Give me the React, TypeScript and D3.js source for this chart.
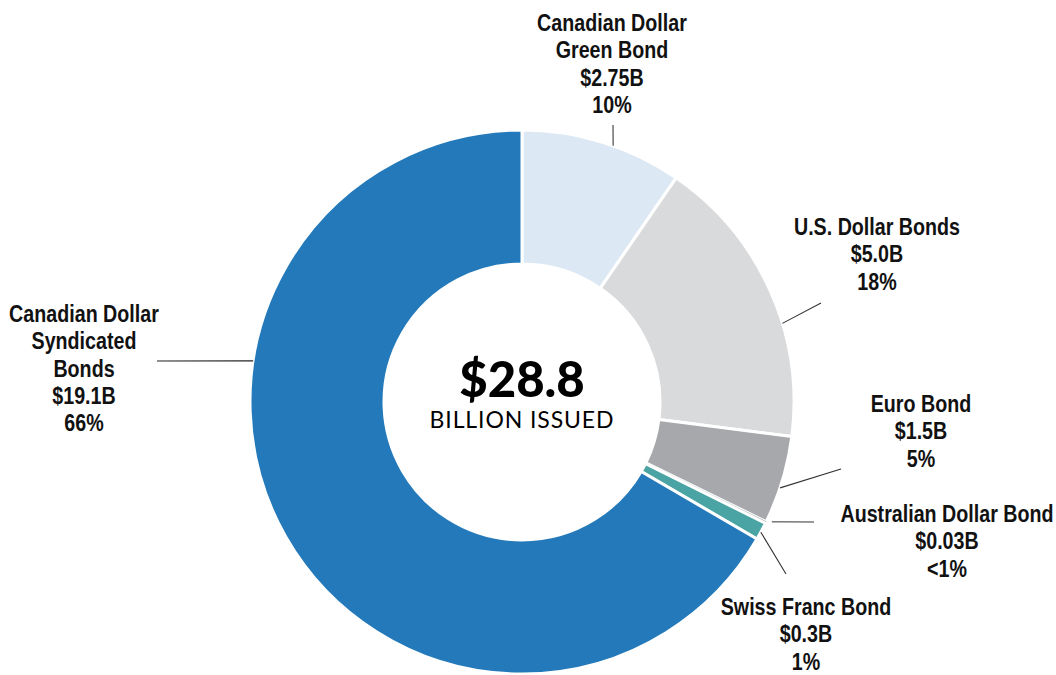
import React, { useEffect, useRef } from 'react';
import * as d3 from 'd3';

// Issuance by currency, in billions (clockwise from 12 o'clock)
const categories = [
  'Canadian Dollar Green Bond',
  'U.S. Dollar Bonds',
  'Euro Bond',
  'Australian Dollar Bond',
  'Swiss Franc Bond',
  'Canadian Dollar Syndicated Bonds',
];
const amounts = [2.75, 5.0, 1.5, 0.03, 0.3, 19.1];
const amountLabels = ['$2.75B', '$5.0B', '$1.5B', '$0.03B', '$0.3B', '$19.1B'];
const shareLabels = ['10%', '18%', '5%', '<1%', '1%', '66%'];
const colors = ['#dce9f5', '#d9dadc', '#a7a8ab', '#b9babd', '#4ba4a4', '#2379b9'];

const totalLabel = '$28.8';
const totalCaption = 'BILLION ISSUED';

// label layout: name lines, text center x, first baseline, leader anchor angle (deg) and end point
const labelLayout = [
  { lines: ['Canadian Dollar', 'Green Bond'], x: 612, y: 31, angle: 19.6, end: [613, 125], stroke: '#777' },
  { lines: ['U.S. Dollar Bonds'], x: 877, y: 235, angle: 73.2, end: [821, 303], stroke: '#333' },
  { lines: ['Euro Bond'], x: 921, y: 412, angle: 108.4, end: [841, 469], stroke: '#333' },
  { lines: ['Australian Dollar Bond'], x: 947, y: 522, angle: 115.6, end: [814, 522], stroke: '#777', offset: 5 },
  { lines: ['Swiss Franc Bond'], x: 806, y: 615, angle: 118.6, end: [786, 574], stroke: '#333' },
  { lines: ['Canadian Dollar', 'Syndicated', 'Bonds'], x: 84, y: 322, angle: 278.7, end: [157, 361], stroke: '#222' },
];

const width = 1056;
const height = 675;
const cx = 522;
const cy = 402;
const outerR = 272;
const innerR = 138;
const lineH = 27.3;
const squeeze = 0.82; // condensed look for the bold labels
const labelFont = "'Liberation Sans', Arial, sans-serif";

const App: React.FC = () => {
  const svgRef = useRef<SVGSVGElement>(null);

  useEffect(() => {
    if (!svgRef.current) return;
    const svg = d3.select(svgRef.current);
    svg.selectAll('*').remove();

    const data = categories.map((c, i) => ({ name: c, value: amounts[i], color: colors[i] }));

    const pie = d3.pie<typeof data[0]>().sort(null).value(d => d.value);
    const arcs = pie(data);
    const arc = d3.arc<d3.PieArcDatum<typeof data[0]>>().innerRadius(innerR).outerRadius(outerR);

    const g = svg.append('g').attr('transform', `translate(${cx},${cy})`);

    g.selectAll('path.slice')
      .data(arcs)
      .enter()
      .append('path')
      .attr('class', 'slice')
      .attr('d', arc)
      .attr('fill', d => d.data.color)
      .attr('stroke', d => (d.value < 0.1 ? d.data.color : '#fff'))
      .attr('stroke-width', d => (d.value < 0.1 ? 0.8 : 3));

    // leader lines
    labelLayout.forEach(l => {
      const a = (l.angle * Math.PI) / 180;
      const r = outerR + (l.offset || 0);
      const x0 = cx + r * Math.sin(a);
      const y0 = cy - r * Math.cos(a);
      svg.append('line')
        .attr('x1', x0).attr('y1', y0)
        .attr('x2', l.end[0]).attr('y2', l.end[1])
        .attr('stroke', l.stroke)
        .attr('stroke-width', l.stroke === '#777' ? 1.6 : 1.1);
    });

    // labels
    const lg = svg.append('g').attr('transform', `scale(${squeeze},1)`);
    labelLayout.forEach((l, i) => {
      const lines = [...l.lines, amountLabels[i], shareLabels[i]];
      const t = lg.append('text')
        .attr('text-anchor', 'middle')
        .attr('font-family', labelFont)
        .attr('font-weight', 700)
        .attr('font-size', 24)
        .attr('fill', '#111');
      lines.forEach((s, j) => {
        t.append('tspan').attr('x', l.x / squeeze).attr('y', l.y + j * lineH).text(s);
      });
    });

    // center text
    svg.append('text')
      .attr('x', cx).attr('y', 397)
      .attr('text-anchor', 'middle')
      .attr('font-family', "Lato, 'Noto Sans', sans-serif")
      .attr('font-weight', 900)
      .attr('font-size', 49)
      .attr('fill', '#000')
      .text(totalLabel);
    svg.append('text')
      .attr('x', cx).attr('y', 428)
      .attr('text-anchor', 'middle')
      .attr('font-family', "Lato, 'Noto Sans', sans-serif")
      .attr('font-weight', 400)
      .attr('font-size', 23)
      .attr('letter-spacing', 0.9)
      .attr('fill', '#000')
      .text(totalCaption);
  }, []);

  return (
    <svg
      ref={svgRef}
      width={width}
      height={height}
      style={{ position: 'absolute', left: 0, top: 0, background: '#fff' }}
    />
  );
};

export default App;
